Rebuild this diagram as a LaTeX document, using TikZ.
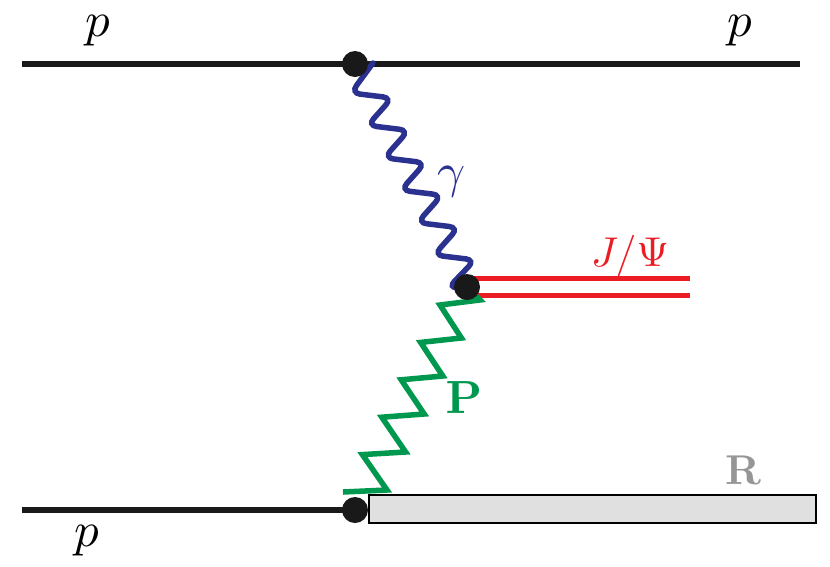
\documentclass[tikz,border=0pt]{standalone}
\usepackage{amsmath}
\usepackage{tikz}
\usetikzlibrary{positioning,calc}
\definecolor{photon}{RGB}{43,49,143}
\definecolor{jpsi}{RGB}{236,28,36}
\definecolor{pomeron}{RGB}{0,152,78}
\definecolor{remnant}{RGB}{150,150,150}

\begin{document}
\begin{tikzpicture}[x=1pt, y=-1pt,
        line/.style={line width=5.5pt, black!90},
        vtx/.style={circle, fill=black!90, inner sep=0pt, minimum size=26pt},
        lbl/.style={inner sep=0pt, scale=4.9},
        rbox/.style={rectangle, draw=black, line width=2pt, fill=black!12,
                    minimum width=447pt, minimum height=28pt, inner sep=0pt}
      ]
        \useasboundingbox (0,0) rectangle (830,566);

        % vertices and free ends
        \coordinate (vt) at (355,64);
        \coordinate (vm) at (467,287);
        \coordinate (vb) at (355,510);
        \coordinate (pin) at (22,64);
        \coordinate (pout) at (800,64);
        \coordinate (pbot) at (22,510);
        \coordinate (jend) at (690,287);

        % proton lines
        \draw[line] (pin) -- (pout);
        \draw[line] (pbot) -- (vb);

        % J/Psi
        \draw[jpsi, line width=5.5pt] ($(vm)+(0,-8.5)$) -- ($(jend)+(0,-8.5)$);
        \draw[jpsi, line width=5.5pt] ($(vm)+(0,8.5)$) -- ($(jend)+(0,8.5)$);

        % photon
        \draw[photon, line width=5.5pt, rounded corners=9pt, line cap=round]
          (373,63) \foreach \i in {0,...,5}{
            -- ({351+16.6*\i},{93+32.4*\i}) -- ({392+16.6*\i},{98+32.4*\i}) }
          -- (448,288) -- (vm);

        % pomeron
        \draw[pomeron, line width=5.5pt] (vm) -- (480,300)
          \foreach \i in {0,...,5}{
            -- ({480-18.6*\i},{300+38*\i}) -- ({440-19.4*\i},{305+37.4*\i}) };

        % remnant
        \node[rbox, anchor=west] (rem) at (368,509) {};

        \node[vtx] (top) at (vt) {};
        \node[vtx] (mid) at (vm) {};
        \node[vtx] (bot) at (vb) {};

        % labels
        \node[lbl] (pl) at (98,31) {$p$};
        \node[lbl] (pr) at (740,31) {$p$};
        \node[lbl] (pb) at (87,541) {$p$};
        \node[lbl, photon] (lg) at (452,182) {$\gamma$};
        \node[lbl, jpsi, scale=0.85] (lj) at (630,256) {$J/\Psi$};
        \node[lbl, pomeron, scale=0.95] (lp) at (464,398) {$\mathbf{P}$};
        \node[lbl, remnant, scale=0.85] (lr) at (743,470) {$\mathbf{R}$};
      \end{tikzpicture}
\end{document}
